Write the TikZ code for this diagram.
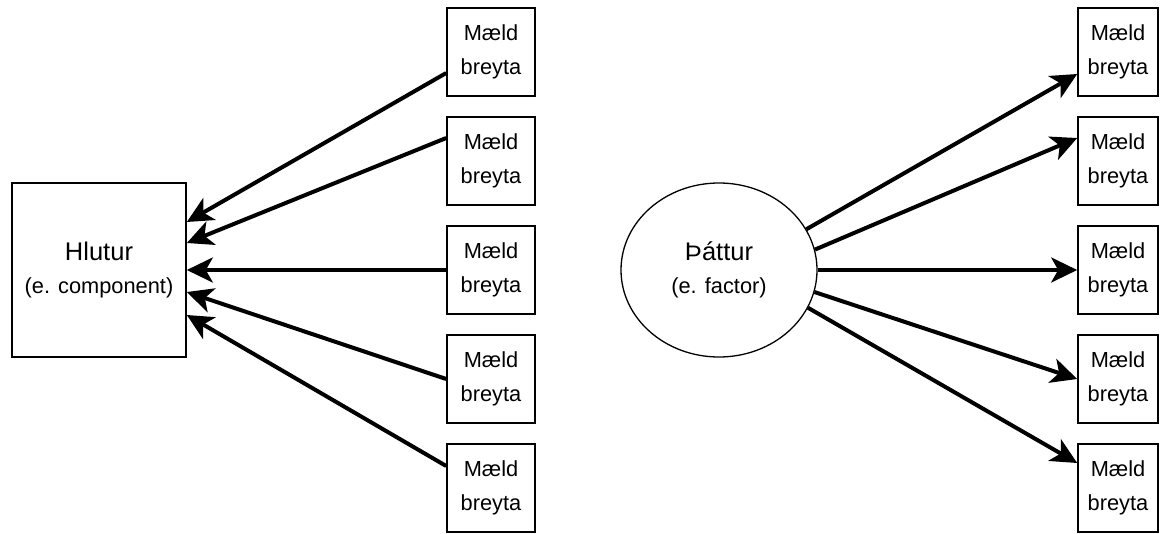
\documentclass[tikz,border=0pt]{standalone}
\usepackage{fontspec}
\setmainfont{Liberation Sans}
\usetikzlibrary{arrows.meta,shapes.geometric}
\begin{document}
\begin{tikzpicture}[x=1pt,y=-1pt,
  mbox/.style={draw, line width=1.6pt, minimum width=88pt, minimum height=88pt,
    inner sep=0pt, align=center, execute at begin node={\rule{0pt}{22pt}},
    font=\fontsize{21.8}{34}\selectfont},
  rbox/.style={mbox, minimum width=80pt},
  bigbox/.style={draw, line width=1.6pt, minimum width=174pt, minimum height=174pt,
    inner sep=0pt, align=center, font=\fontsize{21.8}{33}\selectfont},
  bigell/.style={ellipse, draw, line width=1.3pt, minimum width=196pt, minimum height=174pt,
    inner sep=0pt, align=center, font=\fontsize{21.8}{33}\selectfont},
  conn/.style={line width=4pt, -{Stealth[length=26pt, width=25pt, inset=7pt]}}]
\useasboundingbox (0,0) rectangle (1161,533);

% left part
\node[bigbox] (H) at (99,270) {{\fontsize{25.5}{33}\selectfont Hlutur}\\(e. component)};
\node[mbox] (m1) at (491,52) {Mæld\\breyta};
\node[mbox] (m2) at (491,161) {Mæld\\breyta};
\node[mbox] (m3) at (491,270) {Mæld\\breyta};
\node[mbox] (m4) at (491,379) {Mæld\\breyta};
\node[mbox] (m5) at (491,488) {Mæld\\breyta};

\draw[conn] ([yshift=-21pt]m1.west) -- ([yshift=48pt]H.east);
\draw[conn] ([yshift=23pt]m2.west) -- ([yshift=27pt]H.east);
\draw[conn] (m3.west) -- (H.east);
\draw[conn] (m4.west) -- ([yshift=-22pt]H.east);
\draw[conn] ([yshift=22pt]m5.west) -- ([yshift=-45pt]H.east);

% right part
\node[bigell] (P) at (719,270) {{\fontsize{25.5}{33}\selectfont Þáttur}\\(e. factor)};
\node[rbox] (r1) at (1118,52) {Mæld\\breyta};
\node[rbox] (r2) at (1118,161) {Mæld\\breyta};
\node[rbox] (r3) at (1118,270) {Mæld\\breyta};
\node[rbox] (r4) at (1118,379) {Mæld\\breyta};
\node[rbox] (r5) at (1118,488) {Mæld\\breyta};

\draw[conn] (P.25) -- ([yshift=-22pt]r1.west);
\draw[conn] (P.12) -- ([yshift=23pt]r2.west);
\draw[conn] (P.east) -- (r3.west);
\draw[conn] (P.-13) -- (r4.west);
\draw[conn] (P.-23) -- ([yshift=25pt]r5.west);
\end{tikzpicture}
\end{document}
